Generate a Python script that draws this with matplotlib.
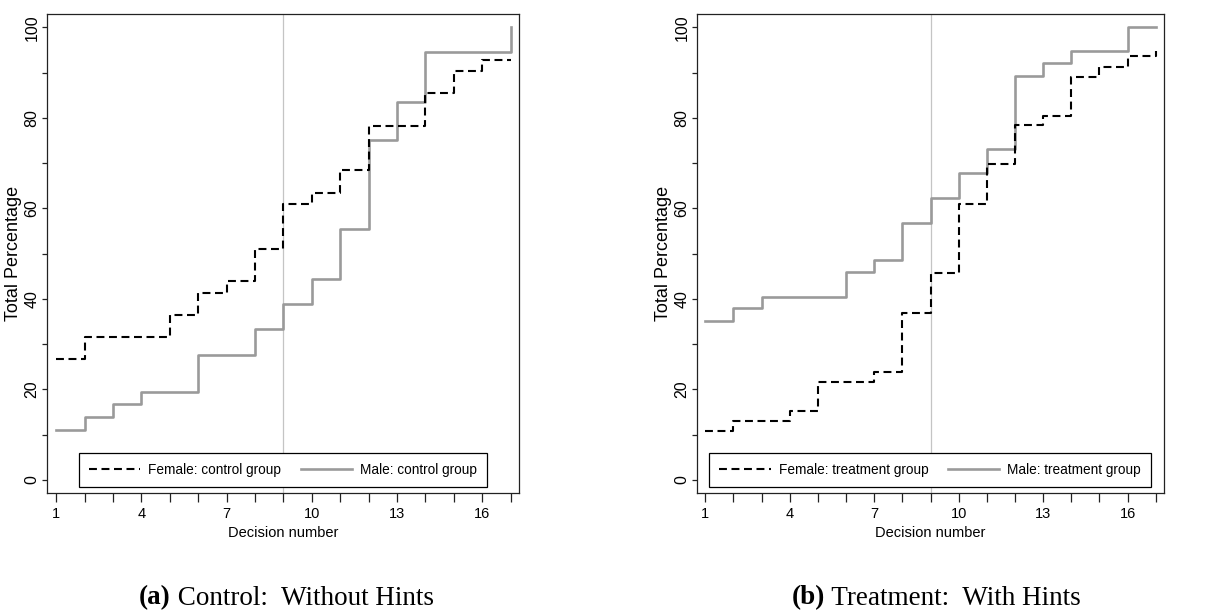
import numpy as np
import matplotlib
matplotlib.use("Agg")
import matplotlib.pyplot as plt

# decision numbers and cumulative percentages
decisions = np.arange(1, 18)

female_control = [26.7, 31.6, 31.6, 31.6, 36.5, 41.3, 43.9, 51.1, 60.9,
                  63.4, 68.4, 78.1, 78.1, 85.4, 90.3, 92.8, 92.8]
male_control = [11.0, 14.0, 16.7, 19.4, 19.4, 27.6, 27.6, 33.3, 38.9,
                44.4, 55.5, 75.0, 83.4, 94.6, 94.6, 94.6, 100.0]

female_treat = [10.8, 12.9, 12.9, 15.2, 21.6, 21.6, 23.8, 36.9, 45.6,
                60.9, 69.7, 78.3, 80.5, 89.1, 91.3, 93.6, 94.8]
male_treat = [35.2, 37.9, 40.5, 40.5, 40.5, 45.9, 48.6, 56.8, 62.2,
              67.7, 73.1, 89.2, 92.1, 94.7, 94.7, 100.0, 100.0]

xtick_labels = [1, 4, 7, 10, 13, 16]
ytick_labels = [0, 20, 40, 60, 80, 100]
cutoff = 9

sans = ['Liberation Sans', 'DejaVu Sans']
serif = ['Liberation Serif', 'DejaVu Serif']

fig = plt.figure(figsize=(12.15, 6.1), dpi=100)
ax1 = fig.add_axes([0.0387, 0.1918, 0.3885, 0.785])
ax2 = fig.add_axes([0.5734, 0.1918, 0.3846, 0.785])


def draw(ax, fem, mal, fem_label, mal_label, xlim):
    ax.axvline(cutoff, color='#c4c4c4', lw=0.9, zorder=1)
    ax.step(decisions, mal, where='post', color='#9a9a9a', lw=1.9,
            label=mal_label, zorder=2)
    ax.step(decisions, fem, where='post', color='black', lw=1.5,
            dashes=(3.8, 2.2), label=fem_label, zorder=3)
    ax.set_xlim(*xlim)
    ax.set_ylim(-2.9, 102.9)

    ax.set_xticks(decisions)
    ax.set_xticklabels([str(d) if d in xtick_labels else '' for d in decisions],
                       family=sans, fontsize=10.5)
    ax.set_yticks(np.arange(0, 101, 10))
    ax.set_yticklabels([str(v) if v in ytick_labels else '' for v in range(0, 101, 10)],
                       family=sans, fontsize=11.5, rotation=90, va='center')
    ax.tick_params(axis='x', length=6.5, width=0.9, pad=3.5, color='#222222')
    ax.tick_params(axis='y', length=3.8, width=0.9, pad=1.5, color='#222222')

    ax.set_xlabel('Decision number', family=sans, fontsize=10.5, labelpad=4)
    ax.set_ylabel('Total Percentage', family=sans, fontsize=13)
    ax.yaxis.set_label_coords(-0.052, 0.5)
    for s in ax.spines.values():
        s.set_color('#222222')
        s.set_linewidth(0.9)

    handles, labels = ax.get_legend_handles_labels()
    leg = ax.legend(handles[::-1], labels[::-1], ncol=2, loc='lower center',
                    bbox_to_anchor=(0.5, 0.0125),
                    prop={'family': sans, 'size': 9.8},
                    handlelength=3.75, handletextpad=0.6, columnspacing=1.45,
                    borderpad=0.75, borderaxespad=0, fancybox=False, framealpha=1)
    leg.get_frame().set_edgecolor('black')
    leg.get_frame().set_linewidth(0.9)
    leg.set_zorder(5)


draw(ax1, female_control, male_control, 'Female: control group', 'Male: control group',
     (0.68, 17.3))
draw(ax2, female_treat, male_treat, 'Female: treatment group', 'Male: treatment group',
     (0.695, 17.29))

# captions: bold tag followed by regular text, centred as a whole under each panel
renderer = fig.canvas.get_renderer()
for xc, tag, rest in [(0.2358, '(a)', ' Control:  Without Hints'),
                      (0.7704, '(b)', ' Treatment:  With Hints')]:
    t1 = fig.text(0, 0.009, tag, family=serif, fontsize=19.5, weight='bold', va='baseline')
    t2 = fig.text(0, 0.009, rest, family=serif, fontsize=19.5, va='baseline')
    w1 = t1.get_window_extent(renderer).width / fig.bbox.width
    w2 = t2.get_window_extent(renderer).width / fig.bbox.width
    x0 = xc - (w1 + w2) / 2
    t1.set_x(x0)
    t2.set_x(x0 + w1)

fig.savefig('out.png', dpi=100, facecolor='white')
